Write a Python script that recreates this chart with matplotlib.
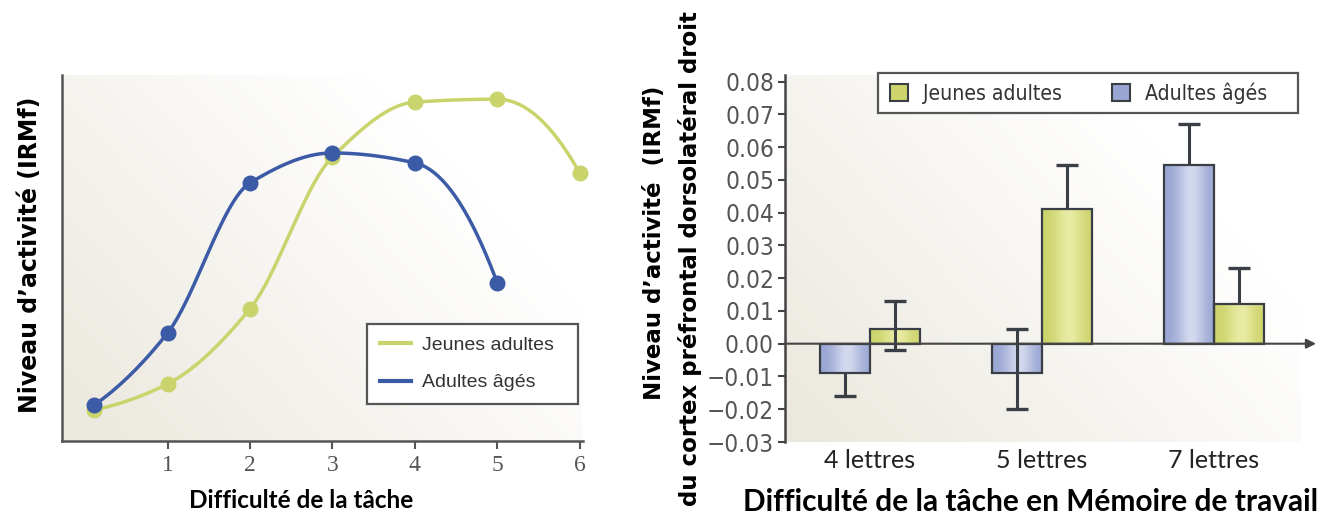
import numpy as np
import matplotlib
matplotlib.use("Agg")
import matplotlib.pyplot as plt
from matplotlib.patches import Rectangle, Patch
from matplotlib.lines import Line2D
from matplotlib.font_manager import fontManager, FontProperties

# ---------------- data ----------------
# left panel (arbitrary activity units)
difficulty_young = [0.11, 1, 2, 3, 4, 5, 6]
activity_young = [8.5, 15.6, 36.1, 77.6, 92.6, 93.4, 73.2]
difficulty_old = [0.11, 1, 2, 3, 4, 5]
activity_old = [9.8, 29.5, 70.5, 78.7, 76.0, 43.2]
left_ticks = [1, 2, 3, 4, 5, 6]

# right panel
categories = ["4 lettres", "5 lettres", "7 lettres"]
young_values = [0.0045, 0.041, 0.012]
young_err_low = [-0.002, np.nan, np.nan]
young_err_high = [0.013, 0.0545, 0.023]
old_values = [-0.009, -0.009, 0.0545]
old_err_low = [-0.016, -0.020, np.nan]
old_err_high = [np.nan, 0.0045, 0.067]
right_yticks = [-0.03, -0.02, -0.01, 0.00, 0.01, 0.02, 0.03, 0.04, 0.05, 0.06, 0.07, 0.08]

label_young = "Jeunes adultes"
label_old = "Adultes âgés"

# ---------------- style ----------------
W, H = 1336, 518
C_YOUNG = "#c9d46c"
C_OLD = "#3b5ba6"
BEIGE = np.array([0.925, 0.912, 0.875])


def find_narrow():
    pref = []
    for f in fontManager.ttflist:
        name = f.name.lower()
        st = str(f.stretch).lower()
        if f.style != "normal" or f.weight not in (400, "normal", "regular", "book"):
            continue
        if "narrow" in name or "condensed" in name or "condensed" in st:
            score = 0 if "sans" in name else 1
            pref.append((score, f.fname))
    pref.sort()
    return pref[0][1] if pref else None


NARROW_PATH = find_narrow()


def narrow_prop(size):
    if NARROW_PATH:
        return FontProperties(fname=NARROW_PATH, size=size)
    return FontProperties(family="Liberation Sans", size=size * 0.9)


def pchip_curve(x, y, n=50):
    x = np.asarray(x, float)
    y = np.asarray(y, float)
    h = np.diff(x)
    d = np.diff(y) / h
    k = len(x)
    m = np.zeros(k)
    for i in range(1, k - 1):
        if d[i - 1] * d[i] <= 0:
            m[i] = 0.0
        else:
            w1 = 2 * h[i] + h[i - 1]
            w2 = h[i] + 2 * h[i - 1]
            m[i] = (w1 + w2) / (w1 / d[i - 1] + w2 / d[i])
    m[0] = 2 * d[0] - m[1]
    m[-1] = 2 * d[-1] - m[-2]
    xs, ys = [], []
    for i in range(k - 1):
        t = np.linspace(0, 1, n)
        h00 = 2 * t**3 - 3 * t**2 + 1
        h10 = t**3 - 2 * t**2 + t
        h01 = -2 * t**3 + 3 * t**2
        h11 = t**3 - t**2
        xs.append(x[i] + t * h[i])
        ys.append(h00 * y[i] + h10 * h[i] * m[i] + h01 * y[i + 1] + h11 * h[i] * m[i + 1])
    return np.concatenate(xs), np.concatenate(ys)


def gradient_bg(fig, rect):
    bg = fig.add_axes(rect, zorder=0)
    bg.axis("off")
    u = np.linspace(0, 1, 300)[None, :]
    v = np.linspace(0, 1, 200)[:, None]
    a = np.clip((1 - u) * 0.85 + (1 - v) * 0.55 - 0.35, 0, 1)
    img = (1 - a)[..., None] * np.ones(3) + a[..., None] * BEIGE
    bg.imshow(img, origin="lower", extent=[0, 1, 0, 1], aspect="auto", interpolation="bilinear")
    bg.set_xlim(0, 1)
    bg.set_ylim(0, 1)
    return bg


fig = plt.figure(figsize=(W / 100, H / 100), dpi=100)

# ---------------- left panel ----------------
rect1 = [62 / W, (H - 441) / H, (583 - 62) / W, (441 - 75) / H]
gradient_bg(fig, rect1)
ax1 = fig.add_axes(rect1, zorder=1)
ax1.patch.set_alpha(0)

for xs_, ys_, c in [
    (difficulty_young, activity_young, C_YOUNG),
    (difficulty_old, activity_old, C_OLD),
]:
    cx, cy = pchip_curve(xs_, ys_)
    ax1.plot(cx, cy, color=c, lw=2.5, solid_capstyle="round", zorder=3, clip_on=False)
    ax1.plot(xs_, ys_, "o", color=c, ms=11.5, mec="none", zorder=4, clip_on=False)

ax1.set_xlim(-0.28, 6.04)
ax1.set_ylim(0, 100)
ax1.set_xticks(left_ticks)
ax1.set_xticklabels([str(t) for t in left_ticks], family="Liberation Serif", fontsize=17, color="#555555")
ax1.set_yticks([])
for s in ["top", "right"]:
    ax1.spines[s].set_visible(False)
for s in ["left", "bottom"]:
    ax1.spines[s].set_color("#555555")
    ax1.spines[s].set_linewidth(1.8)
ax1.tick_params(axis="x", direction="out", length=6, width=1.5, color="#555555", pad=4)

leg1 = fig.legend(
    handles=[Line2D([], [], color=C_YOUNG, lw=3), Line2D([], [], color=C_OLD, lw=3)],
    labels=[label_young, label_old],
    loc="upper left", bbox_to_anchor=(367 / W, 1 - 400 / H, 211 / W, 76 / H), bbox_transform=fig.transFigure,
    mode="expand", frameon=True, fancybox=False, framealpha=1, edgecolor="#555555",
    handlelength=1.6, handletextpad=0.6, labelspacing=1.0, borderpad=0.65, borderaxespad=0,
    prop={"family": "Liberation Sans", "size": 14},
)
leg1.get_frame().set_linewidth(1.6)
for t in leg1.get_texts():
    t.set_color("#333333")

fig.text(30 / W, 1 - 255 / H, "Niveau d’activité (IRMf)", rotation=90, ha="center", va="center",
         family="DejaVu Sans", fontweight="bold", fontsize=17)
fig.text(301 / W, 1 - 500 / H, "Difficulté de la tâche", ha="center", va="center",
         family="Lato", fontweight="bold", fontsize=17.5)

# ---------------- right panel ----------------
rect2 = [785 / W, (H - 442) / H, (1316 - 785) / W, (442 - 75) / H]
gradient_bg(fig, [785 / W, (H - 442) / H, (1300 - 785) / W, (442 - 75) / H])
ax2 = fig.add_axes(rect2, zorder=1)
ax2.patch.set_alpha(0)

xpos = np.arange(len(categories))
bw = 0.29
EDGE = "#3a3f46"


def gradient_bar(ax, x0, val, edge_col, light_col):
    y0, y1 = min(0, val), max(0, val)
    t = np.linspace(0, 1, 60)
    s = np.exp(-((t - 0.55) / 0.28) ** 2)
    cols = np.array(edge_col)[None, :] * (1 - s[:, None]) + np.array(light_col)[None, :] * s[:, None]
    im = ax.imshow(cols[None, :, :], extent=[x0, x0 + bw, y0, y1], aspect="auto",
                   interpolation="bilinear", zorder=2)
    r = Rectangle((x0, y0), bw, y1 - y0, facecolor="none", edgecolor=EDGE, lw=1.6, zorder=3)
    ax.add_patch(r)
    im.set_clip_path(r)


YOUNG_EDGE = (0.80, 0.83, 0.42)
YOUNG_LIGHT = (0.91, 0.92, 0.64)
OLD_EDGE = (0.60, 0.65, 0.83)
OLD_LIGHT = (0.83, 0.85, 0.93)

for i in range(len(categories)):
    gradient_bar(ax2, xpos[i] - bw, old_values[i], OLD_EDGE, OLD_LIGHT)
    gradient_bar(ax2, xpos[i], young_values[i], YOUNG_EDGE, YOUNG_LIGHT)


def err(ax, xc, val, lo, hi):
    top = val if np.isnan(hi) else hi
    bot = val if np.isnan(lo) else lo
    ax.plot([xc, xc], [bot, top], color=EDGE, lw=2.2, zorder=4, solid_capstyle="butt")
    for e in (lo, hi):
        if not np.isnan(e):
            ax.plot([xc], [e], marker="_", ms=16, mew=2.4, color=EDGE, zorder=4)


for i in range(len(categories)):
    err(ax2, xpos[i] - bw / 2, old_values[i], old_err_low[i], old_err_high[i])
    err(ax2, xpos[i] + bw / 2, young_values[i], young_err_low[i], young_err_high[i])

xl = (-0.494, 2.593)
ax2.set_xlim(*xl)
ax2.set_ylim(-0.03, 0.082)
ax2.annotate("", xy=(xl[1], 0), xytext=(xl[0], 0),
             arrowprops=dict(arrowstyle="-|>", color="#444444", lw=1.5, mutation_scale=14,
                             shrinkA=0, shrinkB=0), zorder=3, annotation_clip=False)
ax2.set_yticks(right_yticks)
ax2.set_yticklabels([f"{v:.2f}".replace("-", "−") for v in right_yticks],
                    fontproperties=narrow_prop(17.5), color="#555555")
ax2.set_xticks(xpos)
ax2.set_xticklabels(categories, family="Lato", fontsize=18, color="#222222")
ax2.tick_params(axis="x", length=0, pad=5)
ax2.tick_params(axis="y", direction="out", length=5, width=1.5, color="#444444", pad=3)
for s in ["top", "right", "bottom"]:
    ax2.spines[s].set_visible(False)
ax2.spines["left"].set_color("#444444")
ax2.spines["left"].set_linewidth(1.8)
ax2.spines["left"].set_bounds(-0.03, 0.082)

# legend box (frame drawn separately so the entries keep their natural spacing)
frame2 = Rectangle((878 / W, 1 - 113 / H), 420 / W, 40 / H, transform=fig.transFigure,
                   facecolor="white", edgecolor="#555555", lw=1.6, zorder=4)
fig.add_artist(frame2)
leg2 = fig.legend(
    handles=[Patch(facecolor=YOUNG_EDGE, edgecolor=EDGE, lw=1.5),
             Patch(facecolor=OLD_EDGE, edgecolor=EDGE, lw=1.5)],
    labels=[label_young, label_old],
    loc="upper left", bbox_to_anchor=(890 / W, 1 - 82 / H), bbox_transform=fig.transFigure,
    ncol=2, frameon=False, handlelength=0.84, handleheight=0.88, handletextpad=0.7,
    columnspacing=2.4, borderpad=0, borderaxespad=0,
    prop=narrow_prop(15.2),
)
leg2.set_zorder(5)
for t in leg2.get_texts():
    t.set_color("#333333")

fig.text(655 / W, 1 - 243 / H, "Niveau d’activité  (IRMf)", rotation=90, ha="center", va="center",
         family="DejaVu Sans", fontweight="bold", fontsize=16.5)
fig.text(690 / W, 1 - 259 / H, "du cortex préfrontal dorsolatéral droit", rotation=90, ha="center",
         va="center", family="DejaVu Sans", fontweight="bold", fontsize=16.5)
fig.text(1031 / W, 1 - 502 / H, "Difficulté de la tâche en Mémoire de travail", ha="center", va="center",
         family="Lato", fontweight="bold", fontsize=21.5)

fig.savefig("out.png", dpi=100, facecolor="white")
